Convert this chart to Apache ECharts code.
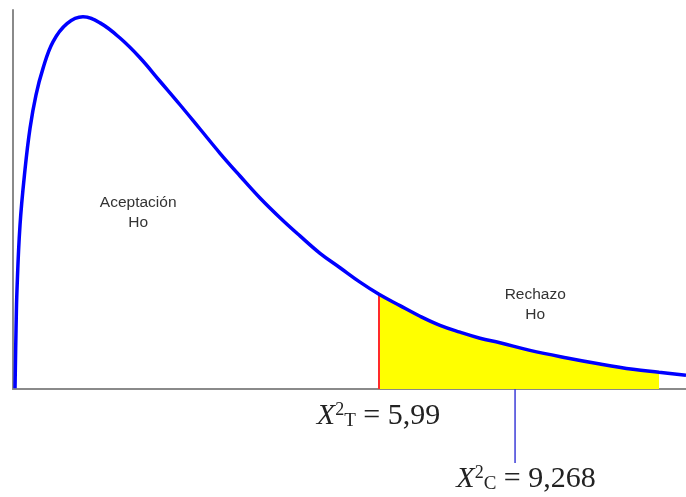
<!DOCTYPE html>
<html><head><meta charset="utf-8">
<script src="https://cdn.jsdelivr.net/npm/echarts@6/dist/echarts.min.js"></script>
<style>html,body{margin:0;padding:0;background:#fff}#c{width:686px;height:497px}</style>
</head><body><div id="c"></div>
<script>
// Curve (arbitrary horizontal units 0..10, density units 0..0.5)
const curveX = [0.030,0.045,0.059,0.104,0.178,0.253,0.342,0.446,0.594,0.802,1.040,1.293,1.590,1.887,2.184,2.481,2.779,3.076,3.373,3.670,3.967,4.264,4.562,4.859,5.156,5.438,5.750,6.048,6.345,6.642,6.939,7.236,7.682,8.232,8.722,9.212,9.599,10.0];
const curveY = [0.001,0.078,0.130,0.216,0.289,0.344,0.388,0.423,0.458,0.482,0.491,0.483,0.463,0.437,0.406,0.375,0.343,0.311,0.281,0.252,0.226,0.202,0.179,0.160,0.141,0.125,0.110,0.096,0.084,0.075,0.067,0.061,0.051,0.041,0.033,0.026,0.022,0.018];
const criticalX = 5.438;  // X²T position
const criticalY = 0.125;
const calcX = 7.46;       // X²C position
const rejectEndX = 9.599;
const labelT = ['X','2','T',' = 5,99'];
const labelC = ['X','2','C',' = 9,268'];
const regionTexts = ['Aceptación\nHo','Rechazo\nHo'];
const regionPos = [[1.86,0.259],[7.76,0.137]];

const curve = curveX.map((x,i)=>[x,curveY[i]]);
const reject = curve.filter(p=>p[0]>=criticalX && p[0]<=rejectEndX);

const chart = echarts.init(document.getElementById('c'), null, {renderer:'canvas'});
const axisCommon = {axisTick:{show:false},axisLabel:{show:false},splitLine:{show:false},
  axisLine:{show:true,lineStyle:{color:'#8a8a8a',width:2}}};
chart.setOption({
  animation:false,
  grid:{left:13,right:0,top:10,bottom:108},
  xAxis:Object.assign({type:'value',min:0,max:10},axisCommon),
  yAxis:Object.assign({type:'value',min:0,max:0.5},axisCommon),
  series:[
    {type:'line',data:reject,smooth:0.4,symbol:'none',lineStyle:{width:0},
     areaStyle:{color:'#ffff00',opacity:1},z:1},
    {type:'line',data:[[criticalX,0],[criticalX,criticalY]],symbol:'none',
     lineStyle:{color:'#ff2a2a',width:2},z:2},
    {type:'line',data:curve,smooth:0.4,symbol:'none',
     lineStyle:{color:'#0000ff',width:3.5},z:3}
  ]
});

const P = (p)=>chart.convertToPixel({gridIndex:0},p);
const base = P([0,0]);
const pT = P([criticalX,0]);
const pC = P([calcX,0]);
function richLabel(parts, cx, top){
  return {type:'text',x:cx,y:top,z:10,style:{
    text:'{x|'+parts[0]+'}{sup|'+parts[1]+'}{sub|'+parts[2]+'}{eq|'+parts[3]+'}',
    align:'center',verticalAlign:'top',fill:'#222',
    rich:{
      x:{fontFamily:'Liberation Serif',fontStyle:'italic',fontSize:30,lineHeight:30,verticalAlign:'bottom',fill:'#222'},
      sup:{fontFamily:'Liberation Serif',fontSize:18,lineHeight:14,verticalAlign:'top',fill:'#222'},
      sub:{fontFamily:'Liberation Serif',fontSize:19,lineHeight:22,verticalAlign:'bottom',fill:'#222'},
      eq:{fontFamily:'Liberation Serif',fontSize:30,lineHeight:30,verticalAlign:'bottom',fill:'#222'}
    }}};
}
const graphics = [
  {type:'line',z:5,shape:{x1:pC[0],y1:base[1],x2:pC[0],y2:base[1]+74},style:{stroke:'#3d3dd8',lineWidth:1.5}},
  richLabel(labelT, pT[0]-0.5, base[1]+12),
  richLabel(labelC, pC[0]+11, base[1]+75)
];
regionTexts.forEach((t,i)=>{
  const p = P(regionPos[i]);
  graphics.push({type:'text',x:p[0],y:p[1],z:10,style:{text:t,align:'center',verticalAlign:'top',
    fontFamily:'Liberation Sans',fontSize:15.5,lineHeight:20,fill:'#333'}});
});
chart.setOption({graphic:graphics});
</script></body></html>
